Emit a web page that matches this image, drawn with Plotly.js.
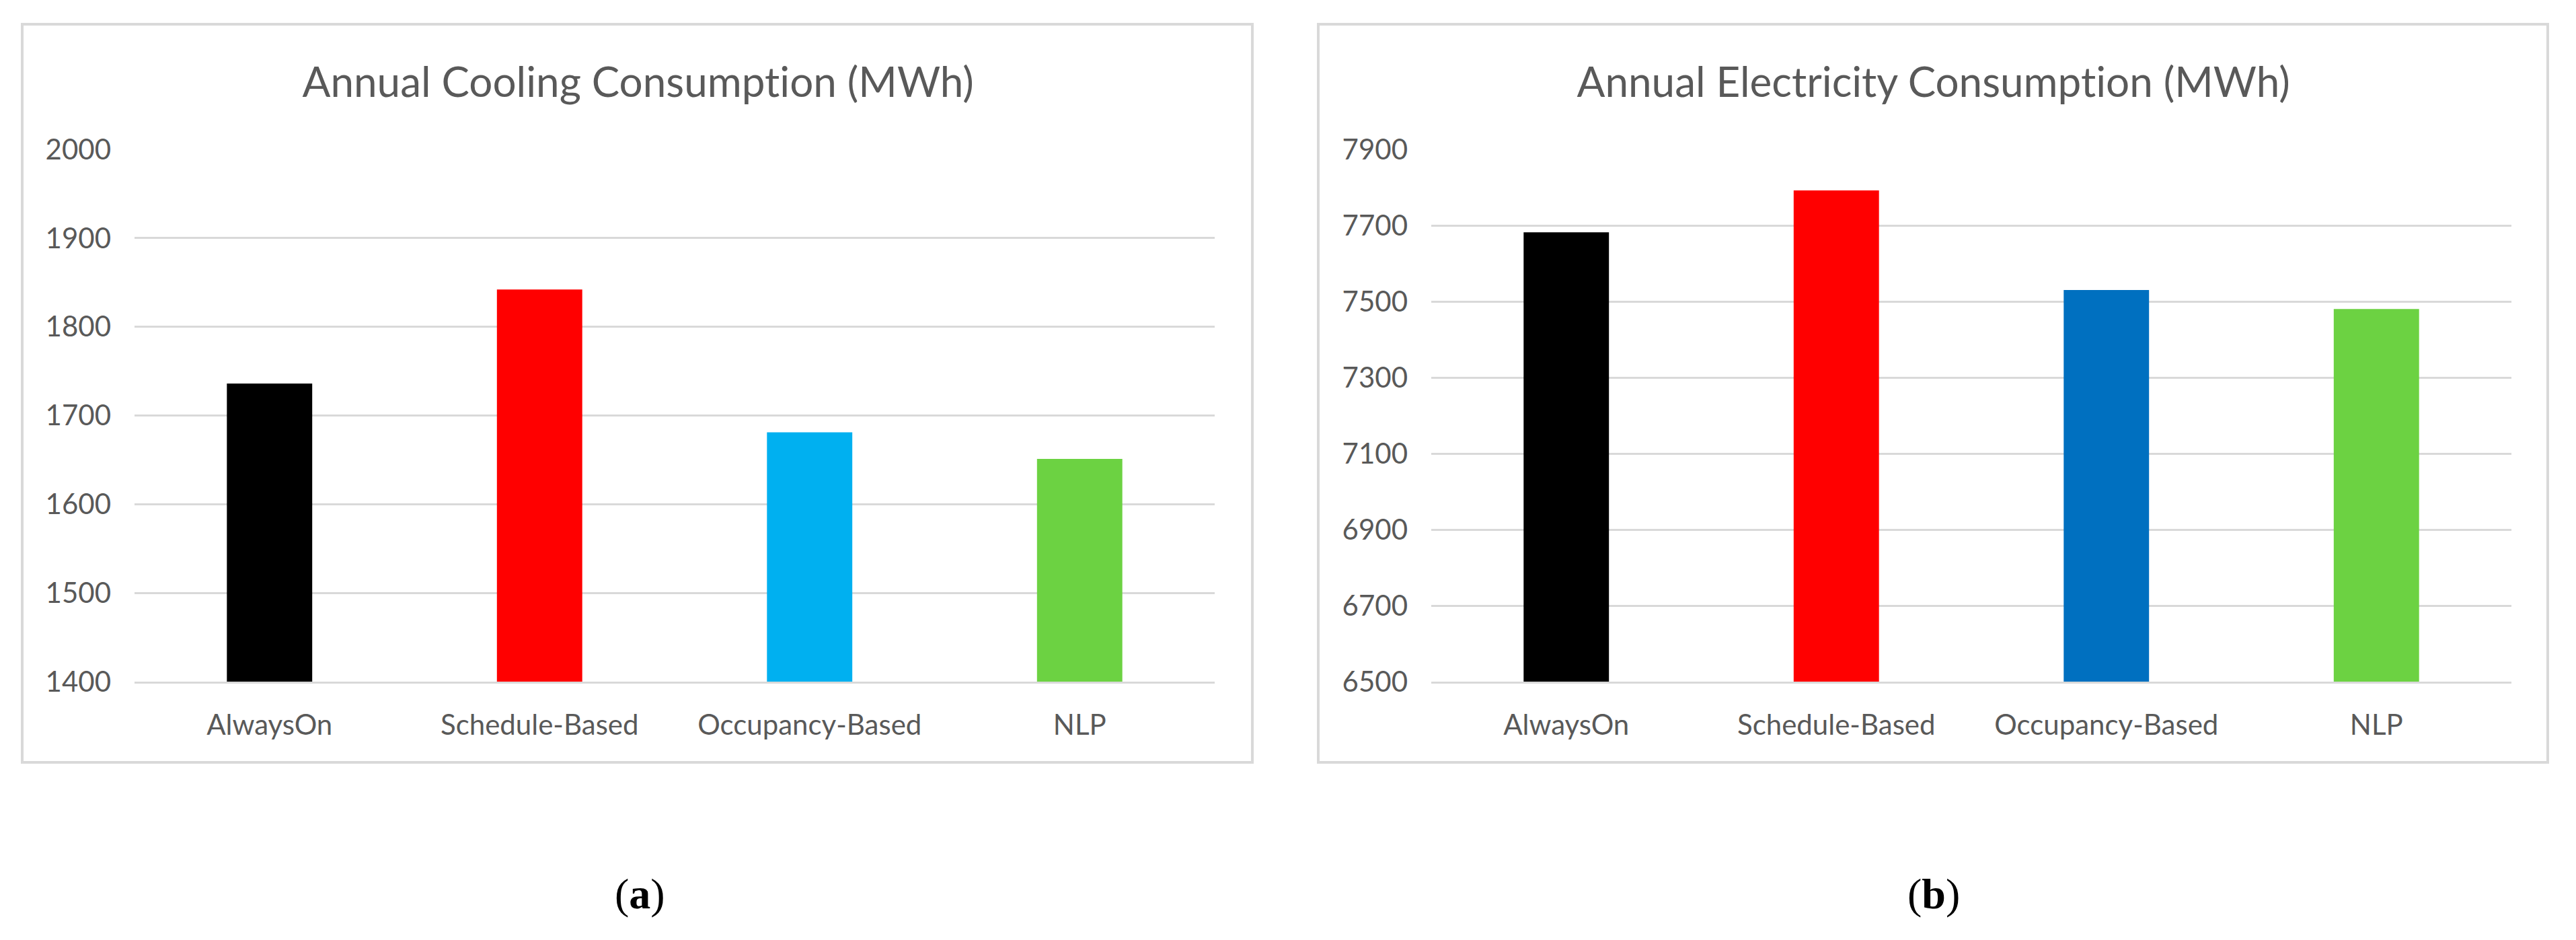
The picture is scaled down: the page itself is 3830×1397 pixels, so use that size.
<!DOCTYPE html>
<html>
<head>
<meta charset="utf-8">
<script src="https://cdn.plot.ly/plotly-3.0.1.min.js"></script>
<style>
  html, body { margin: 0; padding: 0; background: #ffffff; }
  #chart { width: 3830px; height: 1397px; }
  #chart text { font-variant-ligatures: none; font-feature-settings: "liga" 0; }
</style>
</head>
<body>
<div id="chart"></div>
<script>
// ---- data ----
const categories = ["AlwaysOn", "Schedule-Based", "Occupancy-Based", "NLP"];
const coolingValues = [1736, 1842, 1681, 1651];        // MWh
const electricityValues = [7682, 7792, 7530, 7480];    // MWh
const coolingTitle = "Annual Cooling Consumption (MWh)";
const electricityTitle = "Annual Electricity Consumption (MWh)";
const coolingTicks = [1400, 1500, 1600, 1700, 1800, 1900, 2000];
const electricityTicks = [6500, 6700, 6900, 7100, 7300, 7500, 7700, 7900];
const captions = ["a", "b"];

// ---- styles ----
const coolingColors = ["#000000", "#FF0000", "#00B0F0", "#6CD242"];
const electricityColors = ["#000000", "#FF0000", "#0070C0", "#6CD242"];
const textGray = "#595959";
const gridGray = "#d9d9d9";
const W = 3830, H = 1397;
const px = v => v / W;
const py = v => 1 - v / H;

const traces = [
  {
    type: "bar", x: categories, y: coolingValues, xaxis: "x", yaxis: "y",
    marker: { color: coolingColors }, hoverinfo: "x+y", showlegend: false
  },
  {
    type: "bar", x: categories, y: electricityValues, xaxis: "x2", yaxis: "y2",
    marker: { color: electricityColors }, hoverinfo: "x+y", showlegend: false
  }
];

const tickFont = { family: "Lato, 'Open Sans', sans-serif", size: 42, color: textGray };

function xAxis(dom, anchor) {
  return {
    domain: dom, anchor: anchor, type: "category",
    showgrid: false, zeroline: false,
    showline: true, linecolor: gridGray, linewidth: 3,
    ticks: "", tickfont: tickFont, ticklabelstandoff: 26,
    fixedrange: true
  };
}
function yAxis(dom, anchor, range, ticks) {
  return {
    domain: dom, anchor: anchor, range: range,
    tickmode: "array", tickvals: ticks, ticktext: ticks.map(String),
    showgrid: true, gridcolor: gridGray, gridwidth: 3,
    zeroline: false, showline: false,
    ticks: "", tickfont: tickFont, ticklabelstandoff: 34,
    fixedrange: true
  };
}

const yDom = [py(1013), py(222)];

const layout = {
  width: W, height: H,
  margin: { l: 0, r: 0, t: 0, b: 0 },
  paper_bgcolor: "#ffffff", plot_bgcolor: "#ffffff",
  bargap: 0.684,
  showlegend: false,
  xaxis: xAxis([px(200), px(1806)], "y"),
  yaxis: yAxis(yDom, "x", [1400, 2000], coolingTicks),
  xaxis2: xAxis([px(2128), px(3734)], "y2"),
  yaxis2: yAxis(yDom, "x2", [6500, 7900], electricityTicks),
  shapes: [
    { type: "rect", xref: "paper", yref: "paper",
      x0: px(33), x1: px(1862), y0: py(1133), y1: py(36),
      line: { color: gridGray, width: 4 }, fillcolor: "rgba(0,0,0,0)", layer: "below" },
    { type: "rect", xref: "paper", yref: "paper",
      x0: px(1960), x1: px(3788), y0: py(1133), y1: py(36),
      line: { color: gridGray, width: 4 }, fillcolor: "rgba(0,0,0,0)", layer: "below" }
  ],
  annotations: [
    { xref: "paper", yref: "paper", x: px(948), y: py(120), xanchor: "center", yanchor: "middle",
      text: coolingTitle, showarrow: false,
      font: { family: "Lato, 'Open Sans', sans-serif", size: 62, color: textGray } },
    { xref: "paper", yref: "paper", x: px(2874), y: py(120), xanchor: "center", yanchor: "middle",
      text: electricityTitle, showarrow: false,
      font: { family: "Lato, 'Open Sans', sans-serif", size: 62, color: textGray } },
    { xref: "paper", yref: "paper", x: px(951), y: py(1328), xanchor: "center", yanchor: "middle",
      text: "(<b>" + captions[0] + "</b>)", showarrow: false,
      font: { family: "'Liberation Serif', 'DejaVu Serif', serif", size: 64, color: "#000000" } },
    { xref: "paper", yref: "paper", x: px(2875), y: py(1328), xanchor: "center", yanchor: "middle",
      text: "(<b>" + captions[1] + "</b>)", showarrow: false,
      font: { family: "'Liberation Serif', 'DejaVu Serif', serif", size: 64, color: "#000000" } }
  ]
};

Plotly.newPlot("chart", traces, layout, { displayModeBar: false, staticPlot: true });
</script>
</body>
</html>
